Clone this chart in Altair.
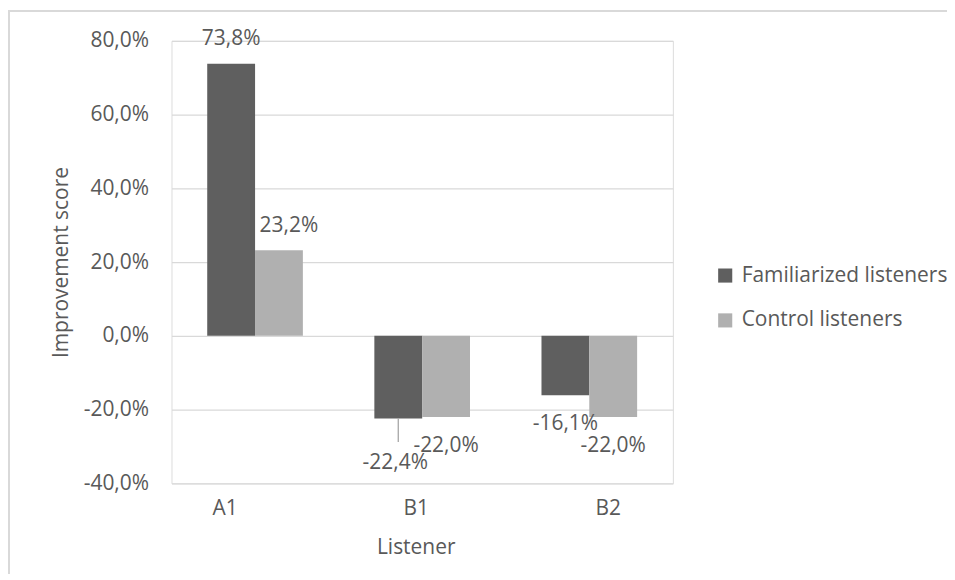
import altair as alt
import pandas as pd

listeners = ["A1", "B1", "B2"]
groups = ["Familiarized listeners", "Control listeners"]
familiarized = [73.8, -22.4, -16.1]
control = [23.2, -22.0, -22.0]
y_ticks = [-40, -20, 0, 20, 40, 60, 80]

rows = []
for i, l in enumerate(listeners):
    rows.append({"listener": l, "group": groups[0], "value": familiarized[i]})
    rows.append({"listener": l, "group": groups[1], "value": control[i]})
df = pd.DataFrame(rows)
cat_df = pd.DataFrame({"listener": listeners})

FONT = "Open Sans"
TXT = "#595959"
FS = 21

color = alt.Color(
    "group:N",
    scale=alt.Scale(domain=groups, range=["#5f5f5f", "#b0b0b0"]),
    sort=groups,
    legend=alt.Legend(
        title=None, orient="none", legendX=545, legendY=225,
        symbolType="square", symbolSize=200, symbolStrokeWidth=0,
        labelFontSize=FS, labelFont=FONT, labelColor=TXT, labelLimit=400,
        labelOffset=6, rowPadding=23, padding=0,
    ),
)

x = alt.X(
    "listener:N", sort=listeners,
    scale=alt.Scale(paddingInner=0.428, paddingOuter=0.214),
    axis=alt.Axis(
        title="Listener", labels=False, ticks=False, domain=False,
        titleFont=FONT, titleFontSize=FS, titleColor=TXT, titleFontWeight="normal",
        titleX=245, titleY=64, titleBaseline="middle",
    ),
)
y = alt.Y(
    "value:Q",
    scale=alt.Scale(domain=[-40, 80], nice=False),
    axis=alt.Axis(
        values=y_ticks, title="Improvement score", ticks=False, domain=False,
        labelFont=FONT, labelFontSize=FS, labelColor=TXT, labelPadding=23,
        labelExpr="replace(replace(format(datum.value, '.1f'), '.', ','), '\u2212', '-') + '%'",
        gridColor="#d9d9d9", gridWidth=1.3,
        titleFont=FONT, titleFontSize=FS, titleColor=TXT, titleFontWeight="normal",
        titleX=-110, titleY=222, titleBaseline="middle",
    ),
)

base = alt.Chart(df)

bars = base.mark_bar(size=48).encode(
    x=x, y=y, color=color, xOffset=alt.XOffset("group:N", sort=groups)
)

# category labels under the plot (drawn as text so each can sit where the reference has it)
cat = alt.Chart(cat_df)
cat_shift = {"A1": -30, "B1": -6, "B2": 19}
cat_layers = [
    cat.transform_filter(alt.datum.listener == c).mark_text(
        font=FONT, fontSize=FS, color=TXT, baseline="middle", align="center",
        dx=cat_shift[c],
    ).encode(
        x=alt.X("listener:N", sort=listeners),
        y=alt.value(470),
        text="listener:N",
    )
    for c in listeners
]

lab = base.transform_calculate(
    label="replace(replace(format(datum.value, '.1f'), '.', ','), '\u2212', '-') + '%'"
)
text_enc = dict(
    x=alt.X("listener:N", sort=listeners),
    xOffset=alt.XOffset("group:N", sort=groups),
    y=alt.Y("value:Q"),
    text="label:N",
)
tprops = dict(font=FONT, fontSize=FS, color=TXT, baseline="middle", align="center")

t_pos_f = lab.transform_filter(
    "datum.value > 0 && datum.group == 'Familiarized listeners'"
).mark_text(dy=-25, **tprops).encode(**text_enc)
t_pos_c = lab.transform_filter(
    "datum.value > 0 && datum.group == 'Control listeners'"
).mark_text(dy=-24, dx=10, **tprops).encode(**text_enc)
t_neg = lab.transform_filter(
    "datum.value < 0 && !(datum.listener == 'B1' && datum.group == 'Familiarized listeners')"
).mark_text(dy=29, **tprops).encode(**text_enc)
t_b1 = lab.transform_filter(
    "datum.listener == 'B1' && datum.group == 'Familiarized listeners'"
).mark_text(dy=45, dx=-3, **tprops).encode(**text_enc)

leader = base.transform_filter(
    "datum.listener == 'B1' && datum.group == 'Familiarized listeners'"
).transform_calculate(
    y_end="datum.value - 6.4"
).mark_rule(color="#a6a6a6", strokeWidth=1.3).encode(
    x=alt.X("listener:N", sort=listeners),
    xOffset=alt.XOffset("group:N", sort=groups),
    y=alt.Y("value:Q"),
    y2="y_end:Q",
)

frame_top = base.mark_rule(color="#d9d9d9", strokeWidth=2, clip=False).encode(
    x=alt.value(-164), x2=alt.value(785), y=alt.value(-30)
)
frame_left = base.mark_rule(color="#d9d9d9", strokeWidth=2, clip=False).encode(
    x=alt.value(-163), y=alt.value(-31), y2=alt.value(560)
)

chart = alt.layer(
    bars, leader, t_pos_f, t_pos_c, t_neg, t_b1, *cat_layers, frame_top, frame_left
).properties(
    width=503, height=444,
    autosize=alt.AutoSizeParams(type="none"),
    padding={"left": 164, "top": 32, "right": 275, "bottom": 90},
).configure_view(stroke=None).configure(background="white")

chart.save("out.html", embed_options={"renderer": "svg", "actions": False})
